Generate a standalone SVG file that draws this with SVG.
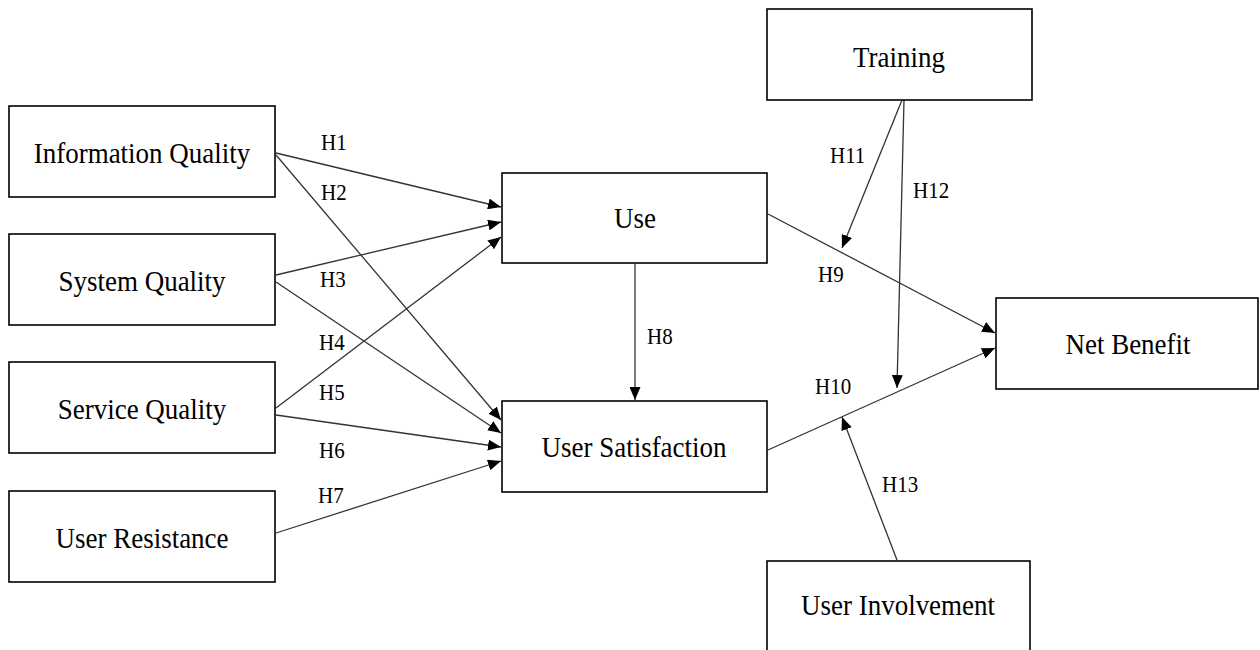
<svg xmlns="http://www.w3.org/2000/svg" width="1260" height="650" viewBox="0 0 1260 650">
  <style>
    .box { fill: #ffffff; stroke: #000000; stroke-width: 1.6; }
    .lbl { font-family: "Liberation Serif", "Times New Roman", serif; font-size: 27px; fill: #000000; text-anchor: middle; }
    .hyp { font-family: "Liberation Serif", "Times New Roman", serif; font-size: 21px; fill: #000000; }
    .edge { fill: none; stroke: #333333; stroke-width: 1.3; marker-end: url(#arrow); }
  </style>
  <defs>
    <marker id="arrow" markerUnits="userSpaceOnUse" markerWidth="13" markerHeight="11" refX="13" refY="5.5" orient="auto">
      <path d="M0,0 L13,5.5 L0,11 Z" fill="#000000"/>
    </marker>
  </defs>
  <rect width="1260" height="650" fill="#ffffff"/>

  <g id="connectors">
    <line class="edge" x1="276" y1="153" x2="501" y2="207"/>
    <line class="edge" x1="276" y1="155" x2="501" y2="420"/>
    <line class="edge" x1="276" y1="275" x2="501" y2="222"/>
    <line class="edge" x1="276" y1="282" x2="501" y2="433"/>
    <line class="edge" x1="276" y1="408" x2="501" y2="237"/>
    <line class="edge" x1="276" y1="415" x2="501" y2="447"/>
    <line class="edge" x1="276" y1="533" x2="501" y2="461"/>
    <line class="edge" x1="635" y1="264" x2="635" y2="400"/>
    <line class="edge" x1="768" y1="214" x2="995" y2="333"/>
    <line class="edge" x1="768" y1="450" x2="995" y2="348"/>
    <line class="edge" x1="902" y1="100" x2="842" y2="248"/>
    <line class="edge" x1="904" y1="100" x2="897" y2="388"/>
    <line class="edge" x1="897" y1="560" x2="842" y2="417"/>
  </g>

  <g id="hyp-labels">
    <text class="hyp" transform="translate(321 150) scale(1 1.12)">H1</text>
    <text class="hyp" transform="translate(321 200) scale(1 1.12)">H2</text>
    <text class="hyp" transform="translate(320 287) scale(1 1.12)">H3</text>
    <text class="hyp" transform="translate(319 350) scale(1 1.12)">H4</text>
    <text class="hyp" transform="translate(319 400) scale(1 1.12)">H5</text>
    <text class="hyp" transform="translate(319 458) scale(1 1.12)">H6</text>
    <text class="hyp" transform="translate(318 503) scale(1 1.12)">H7</text>
    <text class="hyp" transform="translate(647 344) scale(1 1.12)">H8</text>
    <text class="hyp" transform="translate(818 282) scale(1 1.12)">H9</text>
    <text class="hyp" transform="translate(815 394) scale(1 1.12)">H10</text>
    <text class="hyp" transform="translate(830 163) scale(1 1.12)">H11</text>
    <text class="hyp" transform="translate(913 198) scale(1 1.12)">H12</text>
    <text class="hyp" transform="translate(882 492) scale(1 1.12)">H13</text>
  </g>

  <g id="information-quality">
    <rect class="box" x="9" y="106" width="266" height="91"/>
    <text class="lbl" transform="translate(142 163) scale(1 1.12)">Information Quality</text>
  </g>
  <g id="system-quality">
    <rect class="box" x="9" y="234" width="266" height="91"/>
    <text class="lbl" transform="translate(142 291) scale(1 1.12)">System Quality</text>
  </g>
  <g id="service-quality">
    <rect class="box" x="9" y="362" width="266" height="91"/>
    <text class="lbl" transform="translate(142 419) scale(1 1.12)">Service Quality</text>
  </g>
  <g id="user-resistance">
    <rect class="box" x="9" y="491" width="266" height="91"/>
    <text class="lbl" transform="translate(142 548) scale(1 1.12)">User Resistance</text>
  </g>
  <g id="use">
    <rect class="box" x="502" y="173" width="265" height="90"/>
    <text class="lbl" transform="translate(635 228) scale(1 1.12)">Use</text>
  </g>
  <g id="user-satisfaction">
    <rect class="box" x="502" y="401" width="265" height="91"/>
    <text class="lbl" transform="translate(634 457) scale(1 1.12)">User Satisfaction</text>
  </g>
  <g id="training">
    <rect class="box" x="767" y="9" width="265" height="91"/>
    <text class="lbl" transform="translate(899 67) scale(1 1.12)">Training</text>
  </g>
  <g id="net-benefit">
    <rect class="box" x="996" y="298" width="262" height="91"/>
    <text class="lbl" transform="translate(1128 354) scale(1 1.12)">Net Benefit</text>
  </g>
  <g id="user-involvement">
    <rect class="box" x="767" y="561" width="263" height="91"/>
    <text class="lbl" transform="translate(898 615) scale(1 1.12)">User Involvement</text>
  </g>
</svg>
